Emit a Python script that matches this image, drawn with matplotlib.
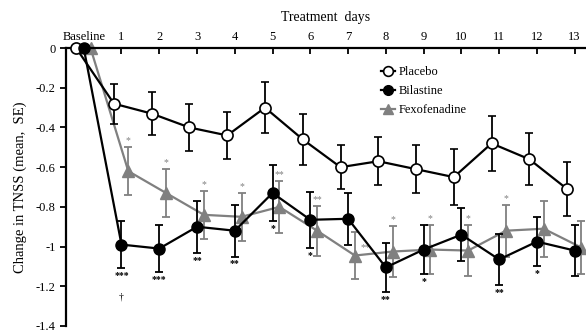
import matplotlib.pyplot as plt
from matplotlib.lines import Line2D

plt.rcParams['font.family'] = ['Liberation Serif', 'DejaVu Serif']

days = list(range(14))
day_labels = ['Baseline'] + [str(d) for d in range(1, 14)]

placebo = [0, -0.28, -0.33, -0.40, -0.44, -0.30, -0.46, -0.60, -0.57, -0.61, -0.65, -0.48, -0.56, -0.71]
placebo_se = [0, 0.10, 0.11, 0.12, 0.12, 0.13, 0.13, 0.11, 0.12, 0.12, 0.14, 0.14, 0.13, 0.135]

bilastine = [0, -0.99, -1.01, -0.90, -0.92, -0.73, -0.865, -0.86, -1.105, -1.015, -0.94, -1.065, -0.975, -1.02]
bilastine_se = [0, 0.12, 0.12, 0.13, 0.13, 0.14, 0.14, 0.13, 0.125, 0.125, 0.135, 0.13, 0.125, 0.13]

fexo = [0, -0.62, -0.73, -0.84, -0.85, -0.80, -0.92, -1.045, -1.025, -1.015, -1.02, -0.92, -0.91, -1.005]
fexo_se = [0, 0.12, 0.12, 0.12, 0.12, 0.13, 0.125, 0.12, 0.13, 0.125, 0.13, 0.13, 0.14, 0.135]

# significance marks (bilastine below bars, fexofenadine above bars)
bil_sig = {1: '***', 2: '***', 3: '**', 4: '**', 5: '*', 6: '*', 8: '**', 9: '*', 11: '**', 12: '*'}
fexo_sig = {1: '*', 2: '*', 3: '*', 4: '*', 5: '**', 6: '**', 8: '*', 9: '*', 10: '*', 11: '*'}

fig = plt.figure(figsize=(5.86, 3.34), dpi=100)
ax = fig.add_axes([0.1126, 0.024, 0.8874, 0.832])

gray = '#808080'
xp = [d - 0.2 for d in days]
xb = [d for d in days]
xf = [d + 0.18 for d in days]

ax.errorbar(xf, fexo, yerr=fexo_se, color=gray, ecolor=gray, marker='^', ms=8,
            lw=1.6, elinewidth=1.3, capsize=3, capthick=1.3,
            clip_on=False, zorder=2)
ax.errorbar(xp, placebo, yerr=placebo_se, color='black', marker='o', ms=8,
            mfc='white', mec='black', mew=1.2, lw=1.6, elinewidth=1.3, capsize=3,
            capthick=1.3, clip_on=False, zorder=3)
ax.errorbar(xb, bilastine, yerr=bilastine_se, color='black', marker='o', ms=8,
            lw=1.6, elinewidth=1.3, capsize=3, capthick=1.3,
            clip_on=False, zorder=4)

for d, s in bil_sig.items():
    ax.text(d, bilastine[d] - bilastine_se[d] - 0.015, s, ha='center', va='top',
            fontsize=7, fontweight='bold', color='black')
ax.text(1, -1.23, '\u2020', ha='center', va='top', fontsize=7, color='black')
for d, s in fexo_sig.items():
    ax.text(d + 0.18, fexo[d] + fexo_se[d] + 0.01, s, ha='center', va='bottom',
            fontsize=7, color=gray)
ax.text(7.45, -1.03, '**', ha='center', va='bottom', fontsize=7, color=gray)

ax.set_xlim(-0.47, 13.3)
ax.set_ylim(-1.4, 0)
ax.set_yticks([0, -0.2, -0.4, -0.6, -0.8, -1, -1.2, -1.4])
ax.set_yticklabels(['0', '-0.2', '-0.4', '-0.6', '-0.8', '-1', '-1.2', '-1.4'])
ax.xaxis.tick_top()
ax.xaxis.set_label_position('top')
ax.set_xticks(days)
ax.set_xticklabels(day_labels)
ax.tick_params(axis='x', direction='in', length=4, width=1.3, labelsize=9, pad=4)
ax.tick_params(axis='y', direction='out', length=4, width=1.3, labelsize=9)
ax.set_xlabel('Treatment  days', fontsize=10, labelpad=7)
ax.set_ylabel('Change in TNSS (mean,  SE)', fontsize=10.5, labelpad=6)
ax.spines['right'].set_visible(False)
ax.spines['bottom'].set_visible(False)
ax.spines['top'].set_linewidth(1.6)
ax.spines['left'].set_linewidth(1.6)

handles = [
    Line2D([], [], color='black', marker='o', ms=7, mfc='white', mec='black', mew=1.2, lw=1.6),
    Line2D([], [], color='black', marker='o', ms=7, lw=1.6),
    Line2D([], [], color=gray, marker='^', ms=7, lw=1.6),
]
ax.legend(handles, ['Placebo', 'Bilastine', 'Fexofenadine'], loc='upper left',
          bbox_to_anchor=(0.585, 0.975), frameon=False, fontsize=9, handlelength=1.1,
          handletextpad=0.25, labelspacing=0.55)

fig.savefig('out.png', dpi=100)
